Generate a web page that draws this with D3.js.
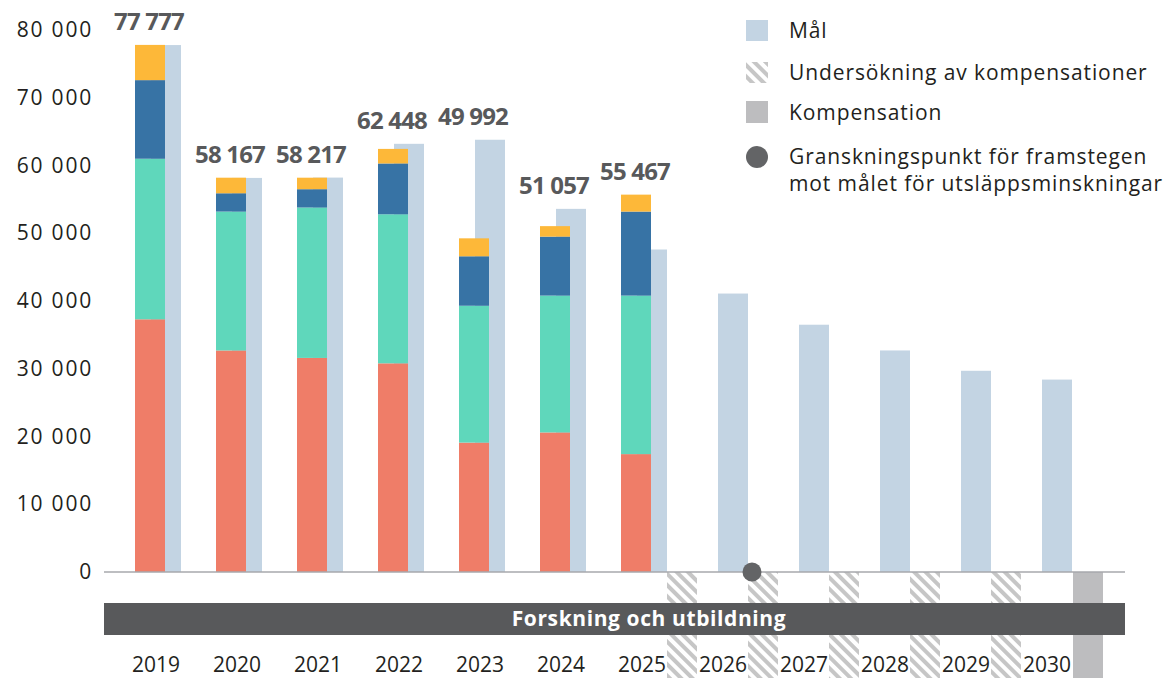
<!DOCTYPE html>
<html>
<head>
<meta charset="utf-8">
<script src="https://cdn.jsdelivr.net/npm/d3@7"></script>
<style>
  body { margin: 0; background: #fff; }
  svg { display: block; font-family: "Open Sans", "Noto Sans", sans-serif; }
</style>
</head>
<body>
<svg id="chart" width="1169" height="678"></svg>
<script>
const years = ['2019', '2020', '2021', '2022', '2023', '2024', '2025', '2026', '2027', '2028', '2029', '2030'];
const stackYears = ['2019', '2020', '2021', '2022', '2023', '2024', '2025'];
// stacked segments, bottom to top
const seriesRed = [37300, 32700, 31600, 30800, 19100, 20600, 17400];
const seriesTeal = [23700, 20500, 22200, 22000, 20200, 20200, 23400];
const seriesBlue = [11600, 2700, 2700, 7500, 7300, 8700, 12400];
const seriesYellow = [5200, 2300, 1700, 2150, 2650, 1550, 2500];
const totalLabels = ['77 777', '58 167', '58 217', '62 448', '49 992', '51 057', '55 467'];
const goals = [77777, 58167, 58217, 63200, 63800, 53600, 47600, 41100, 36500, 32700, 29700, 28400];
const surveyYears = ['2025', '2026', '2027', '2028', '2029'];
const compensationYears = ['2030'];
const reviewYear = '2026';
const yTicks = [0, 10000, 20000, 30000, 40000, 50000, 60000, 70000, 80000];
const legendItems = ['Mål', 'Undersökning av kompensationer', 'Kompensation',
  'Granskningspunkt för framstegen|mot målet för utsläppsminskningar'];

const colors = ['#ef7d68', '#5fd7bb', '#3773a5', '#fdb839'];
const goalColor = '#c3d4e3';
const width = 1169, height = 678;
const svg = d3.select('#chart');

const x = d3.scaleBand().domain(years).range([115.5, 115.5 + 81 * years.length]).padding(0);
const y = d3.scaleLinear().domain([0, 80000]).range([572, 30]);
const cx = d => x(d) + x.bandwidth() / 2;
const barW = 30;

const defs = svg.append('defs');
const pat = defs.append('pattern')
  .attr('id', 'hatch')
  .attr('patternUnits', 'userSpaceOnUse')
  .attr('width', 8).attr('height', 8)
  .attr('patternTransform', 'rotate(-45)');
pat.append('rect').attr('width', 8).attr('height', 8).attr('fill', '#fff');
pat.append('rect').attr('width', 4).attr('height', 8).attr('fill', '#c6c6c6');

// hatched survey bars and compensation bar below zero
svg.selectAll('.survey')
  .data(surveyYears)
  .enter().append('rect')
    .attr('class', 'survey')
    .attr('x', d => cx(d) + 25)
    .attr('y', y(0))
    .attr('width', barW)
    .attr('height', height - y(0))
    .attr('fill', 'url(#hatch)');

svg.selectAll('.comp')
  .data(compensationYears)
  .enter().append('rect')
    .attr('class', 'comp')
    .attr('x', d => cx(d) + 26)
    .attr('y', y(0))
    .attr('width', barW)
    .attr('height', height - y(0))
    .attr('fill', '#bdbdbf');

// goal bars
svg.selectAll('.goal')
  .data(years)
  .enter().append('rect')
    .attr('class', 'goal')
    .attr('x', d => cx(d) - 5)
    .attr('y', (d, i) => y(goals[i]))
    .attr('width', barW)
    .attr('height', (d, i) => y(0) - y(goals[i]))
    .attr('fill', goalColor);

// stacked bars
const table = stackYears.map((yr, i) => ({
  year: yr, a: seriesRed[i], b: seriesTeal[i], c: seriesBlue[i], d: seriesYellow[i]
}));
const stack = d3.stack().keys(['a', 'b', 'c', 'd'])(table);
svg.selectAll('.layer')
  .data(stack)
  .enter().append('g')
    .attr('class', 'layer')
    .attr('fill', (d, i) => colors[i])
  .selectAll('rect')
  .data(d => d)
  .enter().append('rect')
    .attr('x', d => cx(d.data.year) - 21)
    .attr('y', d => y(d[1]))
    .attr('width', barW)
    .attr('height', d => y(d[0]) - y(d[1]));

// total labels
svg.selectAll('.total')
  .data(table)
  .enter().append('text')
    .attr('class', 'total')
    .attr('x', d => cx(d.year) - 7)
    .attr('y', (d, i) => Math.min(y(d.a + d.b + d.c + d.d), y(goals[i])) - 15)
    .attr('text-anchor', 'middle')
    .attr('font-size', 24)
    .attr('font-weight', 700)
    .attr('letter-spacing', -0.8)
    .attr('fill', '#58595b')
    .text((d, i) => totalLabels[i]);

// baseline
svg.append('line')
  .attr('x1', 104).attr('x2', 1125)
  .attr('y1', y(0)).attr('y2', y(0))
  .attr('stroke', '#a7a9ac').attr('stroke-width', 1.5);

// y axis
const yAxis = svg.append('g')
  .attr('transform', 'translate(93,0)')
  .call(d3.axisLeft(y).tickValues(yTicks).tickSize(0)
    .tickFormat(d => d3.format(',')(d).replace(/,/g, ' ')));
yAxis.select('.domain').remove();
yAxis.selectAll('text')
  .attr('x', 0)
  .attr('font-size', 21)
  .attr('letter-spacing', 1.8)
  .attr('font-family', '"Open Sans", sans-serif')
  .attr('fill', '#231f20');

// review point
svg.append('circle')
  .attr('cx', cx(reviewYear) + 29)
  .attr('cy', y(0))
  .attr('r', 9.5)
  .attr('fill', '#636466');

// sector band
svg.append('rect')
  .attr('x', 104).attr('y', 603)
  .attr('width', 1021).attr('height', 32)
  .attr('fill', '#58595b');
svg.append('text')
  .attr('x', 649).attr('y', 626)
  .attr('text-anchor', 'middle')
  .attr('font-size', 21)
  .attr('font-weight', 700)
  .attr('letter-spacing', 0.6)
  .attr('fill', '#fff')
  .text('Forskning och utbildning');

// year labels
svg.selectAll('.year')
  .data(years)
  .enter().append('text')
    .attr('class', 'year')
    .attr('x', d => cx(d))
    .attr('y', 672)
    .attr('text-anchor', 'middle')
    .attr('font-size', 21)
    .attr('fill', '#231f20')
    .text(d => d);

// legend
const legend = svg.append('g').attr('transform', 'translate(746,0)');
const rowY = [31, 73, 113, 157];
legend.append('rect').attr('x', 0).attr('y', 20).attr('width', 22).attr('height', 21).attr('fill', goalColor);
legend.append('rect').attr('x', 0).attr('y', 62).attr('width', 22).attr('height', 21).attr('fill', 'url(#hatch)');
legend.append('rect').attr('x', 0).attr('y', 101).attr('width', 22).attr('height', 22).attr('fill', '#bdbdbf');
legend.append('circle').attr('cx', 11).attr('cy', 157).attr('r', 11).attr('fill', '#636466');
legendItems.forEach((t, i) => {
  const txt = legend.append('text')
    .attr('x', 43)
    .attr('y', rowY[i] + 7)
    .attr('font-size', 21)
    .attr('letter-spacing', 0.9)
    .attr('fill', '#231f20');
  t.split('|').forEach((line, j) => {
    txt.append('tspan').attr('x', 43).attr('dy', j === 0 ? 0 : 27).text(line);
  });
});
</script>
</body>
</html>
